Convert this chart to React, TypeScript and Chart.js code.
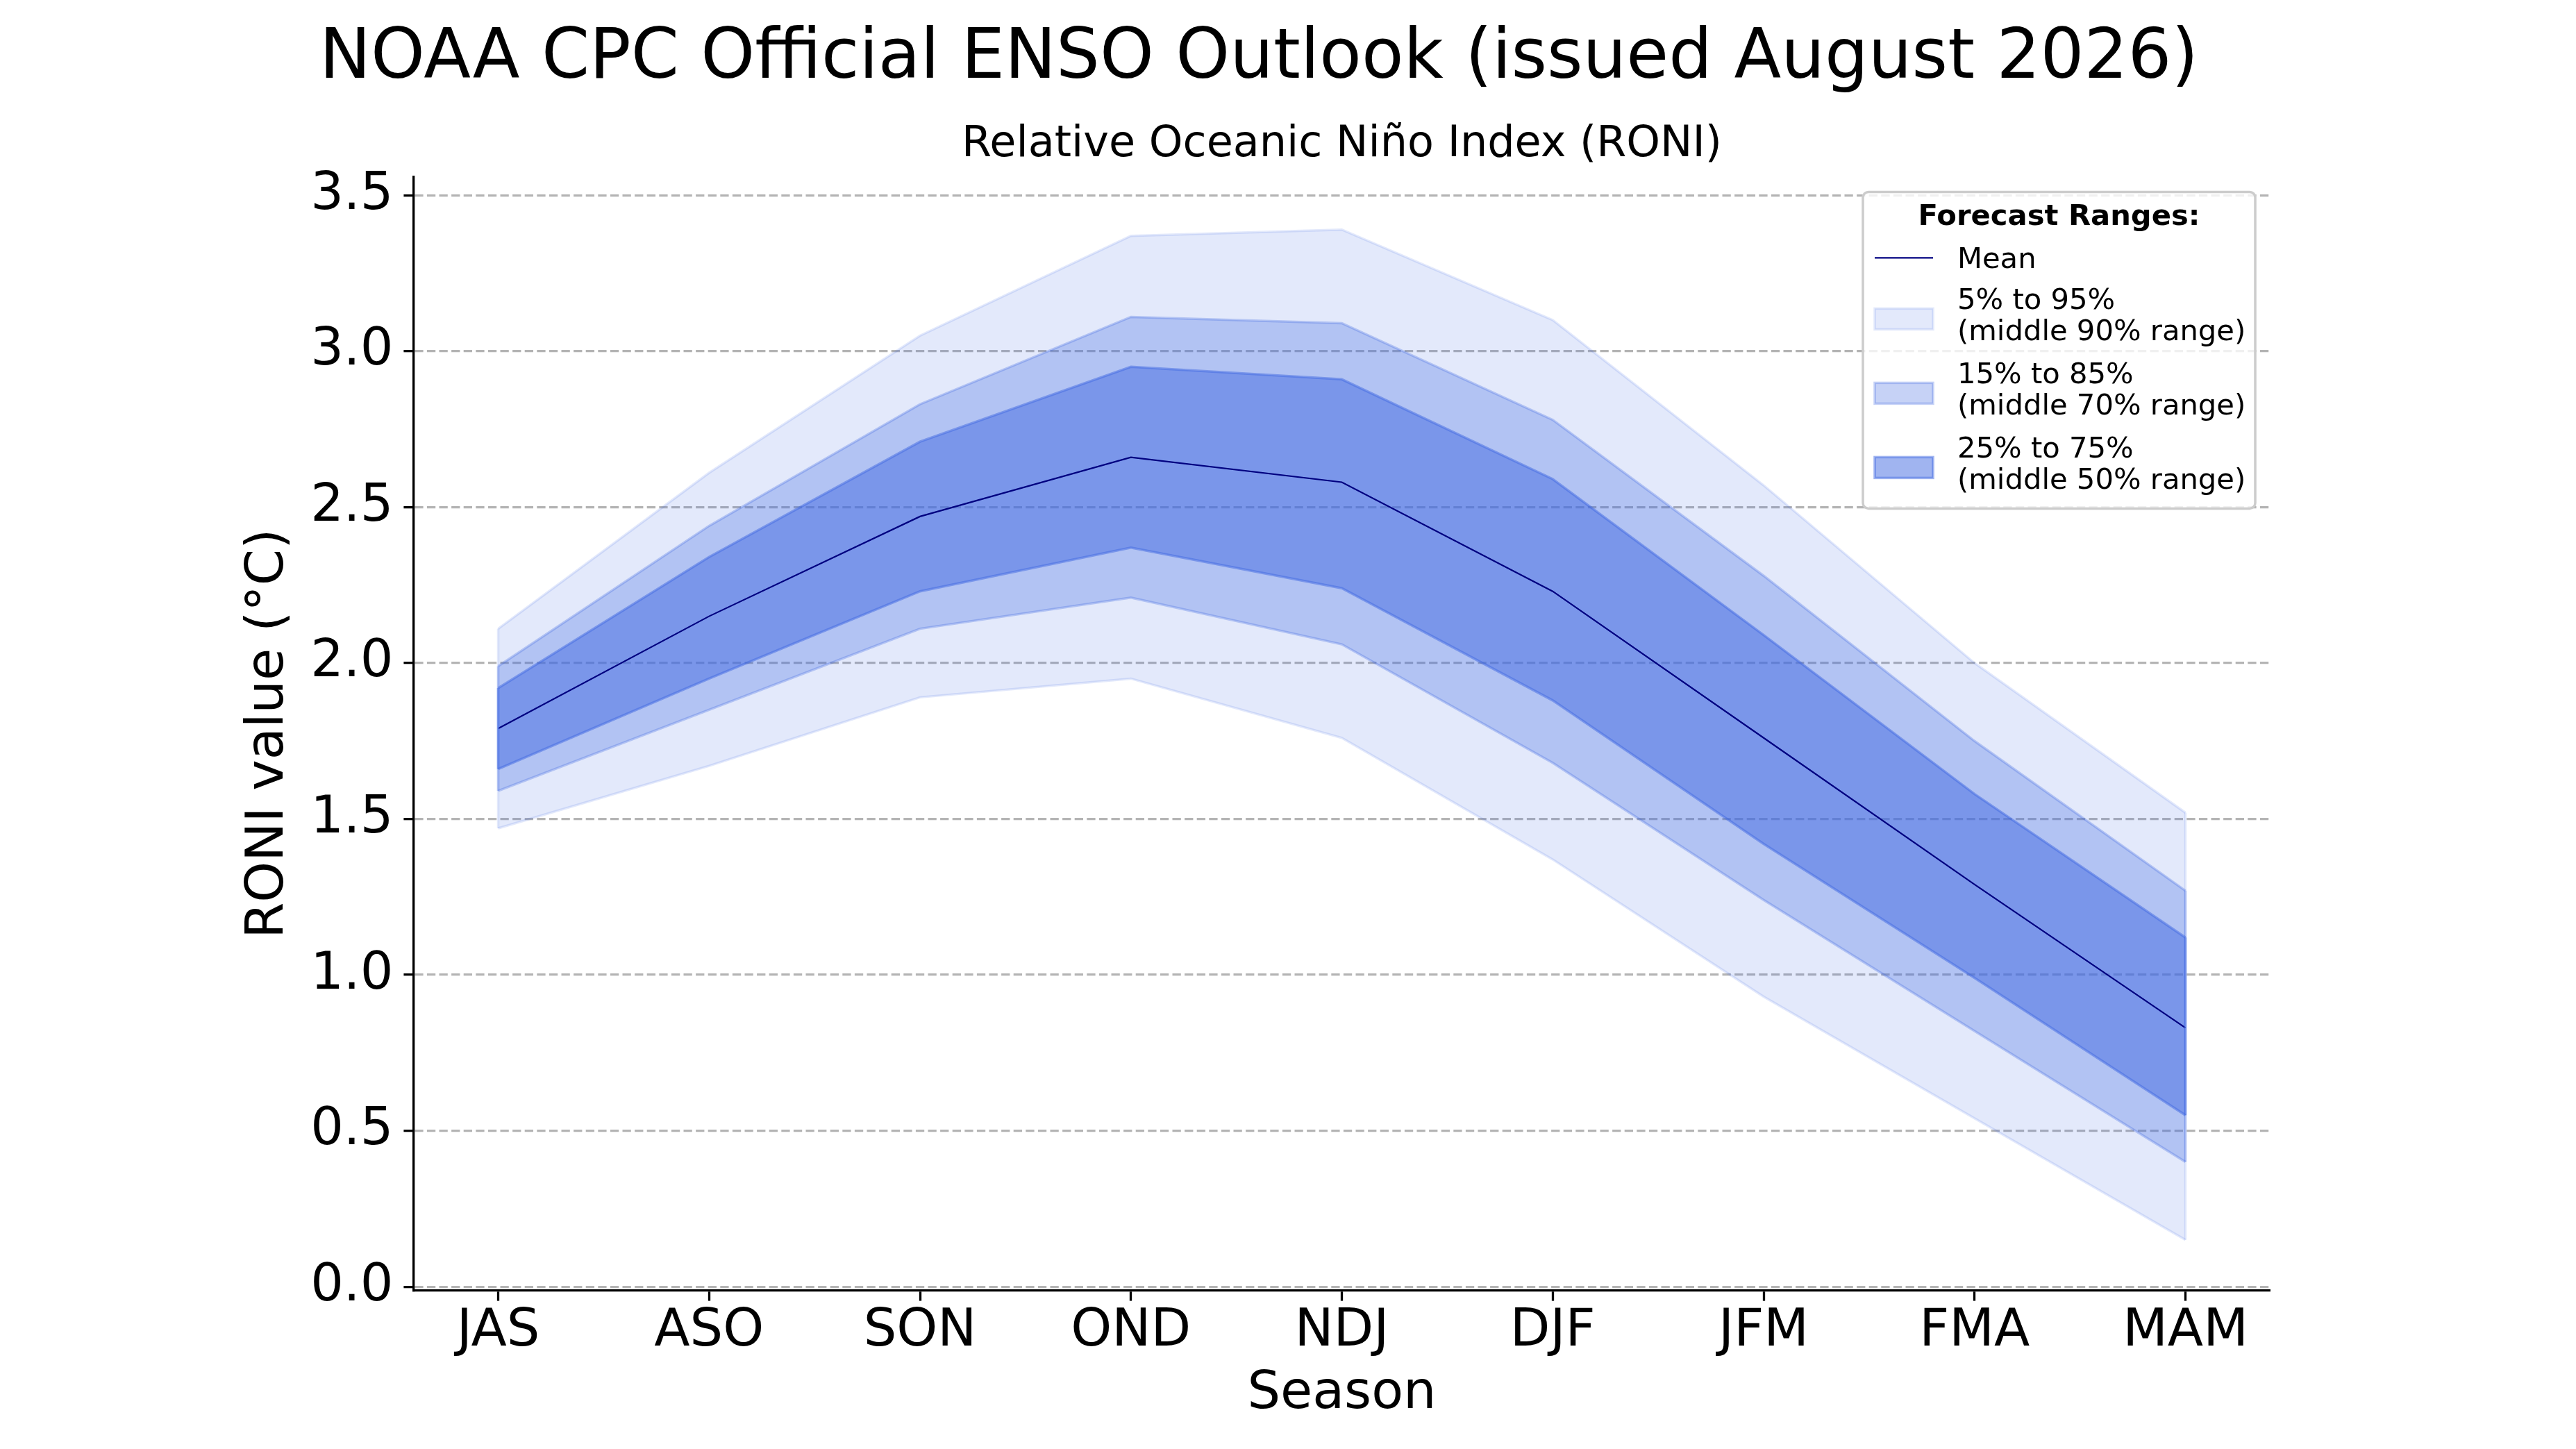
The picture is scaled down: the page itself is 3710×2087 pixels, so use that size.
import React, { useRef, useEffect } from "react";
import { Chart, registerables } from "chart.js";

Chart.register(...registerables);

const FONT = "'DejaVu Sans', sans-serif";

const seasons = ["JAS", "ASO", "SON", "OND", "NDJ", "DJF", "JFM", "FMA", "MAM"];
const meanValues = [1.79, 2.15, 2.47, 2.66, 2.58, 2.23, 1.76, 1.29, 0.83];
const p5 = [1.47, 1.67, 1.89, 1.95, 1.76, 1.37, 0.93, 0.54, 0.15];
const p15 = [1.59, 1.85, 2.11, 2.21, 2.06, 1.68, 1.24, 0.82, 0.4];
const p25 = [1.66, 1.95, 2.23, 2.37, 2.24, 1.88, 1.42, 0.99, 0.55];
const p75 = [1.92, 2.34, 2.71, 2.95, 2.91, 2.59, 2.09, 1.58, 1.12];
const p85 = [1.99, 2.44, 2.83, 3.11, 3.09, 2.78, 2.28, 1.75, 1.27];
const p95 = [2.11, 2.61, 3.05, 3.37, 3.39, 3.1, 2.57, 2.0, 1.52];
const yTicks = [0, 0.5, 1, 1.5, 2, 2.5, 3, 3.5];

const mainTitle = "NOAA CPC Official ENSO Outlook (issued August 2026)";
const subTitle = "Relative Oceanic Niño Index (RONI)";
const legendTitle = "Forecast Ranges:";
const meanLabel = "Mean";
const bandLabels = [
  ["5% to 95%", "(middle 90% range)"],
  ["15% to 85%", "(middle 70% range)"],
  ["25% to 75%", "(middle 50% range)"],
];
const bandAlphas = [0.15, 0.3, 0.5];

const blue = (a: number) => `rgba(65, 105, 225, ${a})`;
const toPoints = (arr: number[]) => arr.map((y, x) => ({ x, y }));

// suptitle, end caps of the bands and the legend box
const overlay = {
  id: "overlay",
  afterDatasetsDraw(chart: any) {
    const { ctx, scales } = chart;
    const bands = [
      [p5, p95],
      [p15, p85],
      [p25, p75],
    ];
    ctx.save();
    bands.forEach(([lo, hi], b) => {
      [0, seasons.length - 1].forEach((i) => {
        const x = scales.x.getPixelForValue(i);
        ctx.strokeStyle = blue(bandAlphas[b]);
        ctx.lineWidth = 3.5;
        ctx.beginPath();
        ctx.moveTo(x, scales.y.getPixelForValue(lo[i]));
        ctx.lineTo(x, scales.y.getPixelForValue(hi[i]));
        ctx.stroke();
      });
    });
    ctx.restore();
  },
  afterDraw(chart: any) {
    const { ctx, chartArea } = chart;
    ctx.save();
    ctx.fillStyle = "#000";
    ctx.textAlign = "center";
    ctx.textBaseline = "alphabetic";
    ctx.font = `99px ${FONT}`;
    ctx.fillText(mainTitle, 1813, 112);

    // legend
    const w = 565;
    const h = 456;
    const left = chartArea.right - 21 - w;
    const top = chartArea.top + 22;
    ctx.beginPath();
    ctx.roundRect(left, top, w, h, 8);
    ctx.fillStyle = "rgba(255,255,255,0.8)";
    ctx.fill();
    ctx.strokeStyle = "#cccccc";
    ctx.lineWidth = 3.5;
    ctx.stroke();

    ctx.fillStyle = "#000";
    ctx.font = `bold 41.7px ${FONT}`;
    ctx.textAlign = "center";
    ctx.fillText(legendTitle, left + w / 2, top + 48);

    const hx = left + 17;
    const hw = 84;
    const tx = left + 136;
    ctx.textAlign = "left";
    ctx.font = `41.7px ${FONT}`;

    ctx.strokeStyle = "#000080";
    ctx.lineWidth = 2.2;
    ctx.beginPath();
    ctx.moveTo(hx, top + 95);
    ctx.lineTo(hx + hw, top + 95);
    ctx.stroke();
    ctx.fillText(meanLabel, tx, top + 110);

    bandLabels.forEach((lines, b) => {
      const y0 = top + 169 + b * 107;
      ctx.fillStyle = blue(bandAlphas[b]);
      ctx.fillRect(hx, y0 - 1, hw, 30);
      ctx.strokeStyle = blue(bandAlphas[b]);
      ctx.lineWidth = 3.5;
      ctx.strokeRect(hx, y0 - 1, hw, 30);
      ctx.fillStyle = "#000";
      lines.forEach((t, k) => ctx.fillText(t, tx, y0 + k * 45));
    });
    ctx.restore();
  },
};

const EnsoChart: React.FC = () => {
  const canvasRef = useRef<HTMLCanvasElement>(null);

  useEffect(() => {
    if (!canvasRef.current) return;
    const band = (data: number[], alpha: number, fill: any) => ({
      data: toPoints(data),
      borderColor: blue(alpha),
      backgroundColor: blue(alpha),
      borderWidth: 3.5,
      pointRadius: 0,
      fill,
    });
    const chart = new Chart(canvasRef.current, {
      type: "line",
      data: {
        datasets: [
          {
            data: toPoints(meanValues),
            borderColor: "#000080",
            borderWidth: 2.2,
            pointRadius: 0,
            fill: false,
          },
          band(p75, bandAlphas[2], "+1"),
          band(p25, bandAlphas[2], false),
          band(p85, bandAlphas[1], "+1"),
          band(p15, bandAlphas[1], false),
          band(p95, bandAlphas[0], "+1"),
          band(p5, bandAlphas[0], false),
        ],
      },
      options: {
        responsive: true,
        maintainAspectRatio: false,
        animation: false,
        layout: { padding: { left: 0, right: 441, top: 0, bottom: 0 } },
        plugins: {
          legend: { display: false },
          tooltip: { enabled: false },
          filler: { propagate: false, drawTime: "beforeDatasetsDraw" },
          title: {
            display: true,
            text: subTitle,
            fullSize: false,
            color: "#000",
            font: { family: FONT, size: 62, weight: "normal" },
            padding: { top: 172, bottom: 8 },
          },
        },
        scales: {
          x: {
            type: "linear",
            min: -0.4,
            max: 8.4,
            afterBuildTicks: (axis: any) => {
              axis.ticks = seasons.map((_, i) => ({ value: i }));
            },
            afterFit: (axis: any) => {
              axis.height = 228;
            },
            ticks: {
              callback: (v: any) => seasons[v],
              color: "#000",
              font: { family: FONT, size: 75 },
              padding: 0,
              maxRotation: 0,
              autoSkip: false,
            },
            grid: {
              drawOnChartArea: false,
              tickLength: 14.6,
              tickWidth: 3.3,
              tickColor: "#000",
            },
            border: { color: "#000", width: 3.3 },
            title: {
              display: true,
              text: "Season",
              color: "#000",
              font: { family: FONT, size: 75 },
              padding: { top: 0, bottom: 33 },
            },
          },
          y: {
            type: "linear",
            min: -0.013,
            max: 3.56,
            afterBuildTicks: (axis: any) => {
              axis.ticks = yTicks.map((v) => ({ value: v }));
            },
            afterFit: (axis: any) => {
              axis.width = 596;
            },
            ticks: {
              callback: (v: any) => Number(v).toFixed(1),
              color: "#000",
              font: { family: FONT, size: 75 },
              padding: 15,
            },
            grid: {
              color: "#b4b4b4",
              lineWidth: 3.3,
              tickLength: 14.6,
              tickWidth: 3.3,
              tickColor: "#000",
            },
            border: { color: "#000", width: 3.3, dash: [12.3, 5.3] },
            title: {
              display: true,
              text: "RONI value (°C)",
              color: "#000",
              font: { family: FONT, size: 75 },
              padding: { top: 343, bottom: 0 },
            },
          },
        },
      },
      plugins: [overlay],
    });
    return () => {
      chart.destroy();
    };
  }, []);

  return (
    <div
      style={{
        position: "absolute",
        left: 0,
        top: 0,
        width: "3710px",
        height: "2087px",
        background: "#fff",
      }}
    >
      <canvas ref={canvasRef} />
    </div>
  );
};

export default function App() {
  return <EnsoChart />;
}
